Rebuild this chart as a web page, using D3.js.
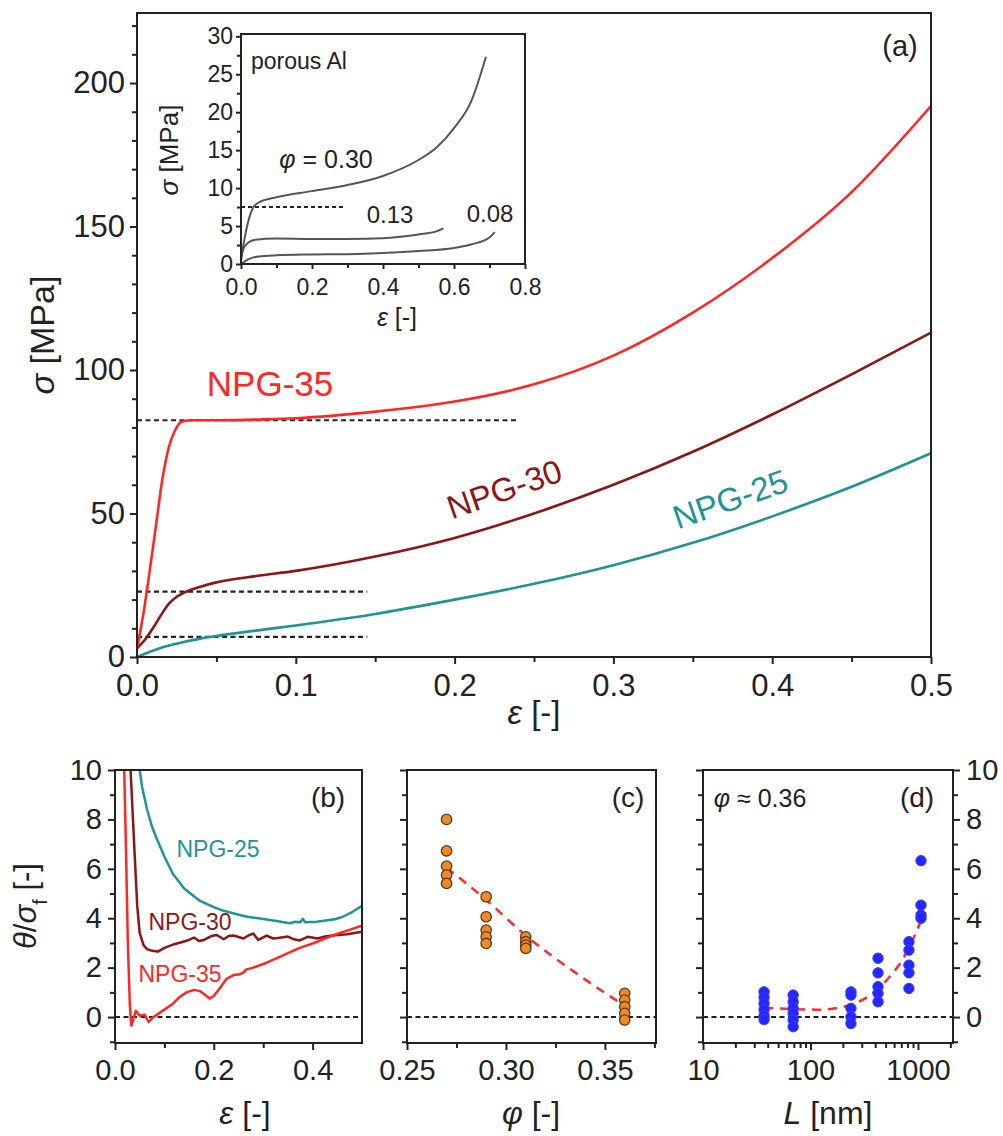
<!DOCTYPE html>
<html>
<head>
<meta charset="utf-8">
<script src="https://cdn.jsdelivr.net/npm/d3@7"></script>
<style>
  body { margin: 0; background: #fff; }
</style>
</head>
<body>
<div class="canvas"></div>
<script>
var FONT = "'Liberation Sans', Arial, sans-serif";

/* ---------- data ---------- */
// (a) stress-strain, [strain, stress MPa]
var npg35 = [[0,3],[0.004,15],[0.008,30],[0.012,46],[0.016,62],[0.02,73],[0.024,79],[0.028,82],[0.035,82.5],[0.05,82.5],[0.08,82.8],[0.1,83.2],[0.15,85.5],[0.2,89],[0.25,95],[0.3,105],[0.35,120],[0.4,139],[0.45,162],[0.5,192]];
var npg30 = [[0,3],[0.005,6],[0.01,10],[0.015,14.5],[0.02,18.5],[0.025,21],[0.03,22.5],[0.04,24.5],[0.05,26],[0.075,28.2],[0.1,30],[0.15,35],[0.2,41.5],[0.25,50],[0.3,60],[0.35,71.5],[0.4,84.5],[0.45,98.5],[0.5,113]];
var npg25 = [[0,0],[0.01,2.2],[0.02,4],[0.03,5.3],[0.04,6.4],[0.05,7.3],[0.075,9.2],[0.1,11],[0.15,15],[0.2,20],[0.25,25.5],[0.3,32],[0.35,39.8],[0.4,49],[0.45,59.3],[0.5,71]];
// dashed yield levels [from, to, stress]
var yieldLines = [[0,0.24,82.5],[0,0.145,22.8],[0,0.145,7]];

// inset: porous Al
var al30 = [[0,0.5],[0.005,2],[0.035,7.5],[0.05,8.1],[0.1,8.8],[0.2,9.6],[0.3,10.4],[0.4,11.6],[0.5,13.7],[0.55,15.3],[0.6,17.9],[0.65,21.6],[0.69,27.3]];
var al13 = [[0,0.5],[0.005,1.8],[0.02,2.8],[0.04,3.2],[0.1,3.35],[0.2,3.3],[0.3,3.3],[0.4,3.4],[0.45,3.6],[0.5,3.9],[0.55,4.3],[0.57,4.7]];
var al08 = [[0,0],[0.02,0.6],[0.05,1.0],[0.1,1.15],[0.2,1.25],[0.3,1.3],[0.4,1.45],[0.5,1.7],[0.6,2.1],[0.65,2.6],[0.7,3.5],[0.715,4.2]];
var alYield = [0,0.29,7.5];

// (b) hardening rate theta/sigma_f vs strain
var b25 = [[0.046,10.6],[0.05,10],[0.055,9.3],[0.065,8.4],[0.075,7.7],[0.085,7.2],[0.1,6.5],[0.117,5.8],[0.14,5.2],[0.172,4.7],[0.2,4.45],[0.22,4.3],[0.239,4.2],[0.255,4.12],[0.27,4.05],[0.29,4.0],[0.307,3.95],[0.33,3.88],[0.354,3.8],[0.365,3.86],[0.375,3.84],[0.38,3.98],[0.385,3.84],[0.408,3.86],[0.43,3.92],[0.445,3.96],[0.46,4.05],[0.48,4.25],[0.5,4.5]];
var b30 = [[0.03,10.6],[0.034,9.0],[0.04,6.5],[0.045,4.5],[0.05,3.4],[0.058,2.9],[0.065,2.75],[0.075,2.68],[0.087,2.65],[0.1,2.8],[0.12,2.95],[0.138,3.05],[0.15,3.12],[0.16,3.22],[0.17,3.08],[0.18,3.12],[0.195,3.28],[0.206,3.32],[0.22,3.15],[0.23,3.28],[0.24,3.3],[0.26,3.18],[0.27,3.3],[0.28,3.38],[0.29,3.12],[0.307,3.3],[0.32,3.18],[0.33,3.2],[0.35,3.26],[0.36,3.16],[0.374,3.1],[0.39,3.25],[0.41,3.18],[0.425,3.26],[0.44,3.3],[0.47,3.35],[0.5,3.45]];
var b35 = [[0.018,10.6],[0.022,7],[0.026,3],[0.03,0.5],[0.033,-0.35],[0.037,-0.1],[0.042,0.25],[0.05,0.05],[0.06,0.1],[0.068,-0.2],[0.075,-0.05],[0.085,0.1],[0.1,0.3],[0.118,0.55],[0.13,0.8],[0.145,1.0],[0.16,1.1],[0.172,1.05],[0.182,0.9],[0.192,0.75],[0.2,0.85],[0.215,1.25],[0.226,1.55],[0.24,1.7],[0.25,1.72],[0.26,1.8],[0.265,1.92],[0.28,2.0],[0.307,2.2],[0.34,2.5],[0.374,2.8],[0.41,3.05],[0.44,3.3],[0.47,3.5],[0.5,3.7]];

// (c) [phi, theta/sigma_f]
var cPoints = [[0.27,8.0],[0.27,6.73],[0.27,6.11],[0.27,5.75],[0.27,5.41],
  [0.29,4.87],[0.29,4.06],[0.29,3.52],[0.29,3.25],[0.29,2.98],
  [0.31,3.25],[0.31,3.05],[0.31,2.91],[0.31,2.78],
  [0.36,0.96],[0.36,0.69],[0.36,0.42],[0.36,0.15],[0.36,-0.12]];
var cFit = [[0.27,6.05],[0.29,4.74],[0.31,3.3],[0.335,1.8],[0.361,0.4]];

// (d) [L nm, theta/sigma_f]
var dPoints = [[37,1.02],[37,0.8],[37,0.55],[37,0.3],[37,0.05],[37,-0.1],
  [69,0.89],[69,0.62],[69,0.35],[69,0.15],[69,-0.12],[69,-0.39],
  [238,1.02],[238,0.89],[238,0.35],[238,0.01],[238,-0.26],
  [425,2.38],[425,1.79],[425,1.23],[425,0.96],[425,0.62],
  [824,3.05],[824,2.71],[824,2.1],[824,1.79],[824,1.16],
  [1067,6.33],[1067,4.53],[1067,4.13],[1067,4.0]];
var dFit = [[37,0.38],[69,0.32],[120,0.3],[238,0.5],[425,1.15],[824,2.8],[1067,3.9]];

var mainXTicks = [0,0.1,0.2,0.3,0.4,0.5];
var mainYTicks = [0,50,100,150,200];
var insetXTicks = [0,0.2,0.4,0.6,0.8];
var insetYTicks = [0,5,10,15,20,25,30];
var lowYTicks = [0,2,4,6,8,10];
var bXTicks = [0,0.2,0.4];
var cXTicks = [0.25,0.30,0.35];
var dXTicks = [10,100,1000];

var RED = "#ff2626", DARKRED = "#8c1616", TEAL = "#1f9494", GREY = "#555";

/* ---------- svg ---------- */
var svg = d3.select(".canvas").append("svg")
  .attr("width", 1003).attr("height", 1136);
svg.append("rect").attr("width", 1003).attr("height", 1136).attr("fill", "#fff");

function addAxis(axisGen, tx, ty, fs) {
  var g = svg.append("g").attr("transform", "translate(" + tx + "," + ty + ")").call(axisGen);
  g.select(".domain").remove();
  g.selectAll("line").attr("stroke", "#222").attr("stroke-width", 2);
  g.selectAll("text").attr("font-size", fs).attr("font-family", FONT).attr("fill", "#222");
  return g;
}
function frame(x, y) {
  svg.append("rect")
    .attr("x", x.range()[0]).attr("y", y.range()[1])
    .attr("width", x.range()[1] - x.range()[0])
    .attr("height", y.range()[0] - y.range()[1])
    .attr("fill", "none").attr("stroke", "#222").attr("stroke-width", 2);
}
function curve(data, x, y, color, w, dash, interp) {
  var line = d3.line().x(function(d) { return x(d[0]); }).y(function(d) { return y(d[1]); })
    .curve(interp || d3.curveLinear);
  return svg.append("path").datum(data).attr("d", line)
    .attr("fill", "none").attr("stroke", color).attr("stroke-width", w)
    .attr("stroke-dasharray", dash || null).attr("stroke-linejoin", "round");
}
function label(x, y, parts, fs, color, rot) {
  var t = svg.append("text").attr("x", x).attr("y", y)
    .attr("font-family", FONT).attr("font-size", fs).attr("fill", color || "#222")
    .attr("text-anchor", "middle");
  if (rot) t.attr("transform", "rotate(" + rot + "," + x + "," + y + ")");
  parts.forEach(function(p) {
    var s = t.append("tspan").text(p.t);
    if (p.i) s.attr("font-style", "italic");
    if (p.sub) s.attr("baseline-shift", "sub").attr("font-size", fs * 0.65);
  });
  return t;
}
function range(a, b, step) {
  var out = [];
  for (var v = a; v <= b + 1e-9; v += step) out.push(+v.toFixed(4));
  return out;
}

/* ---------- (a) main ---------- */
var xA = d3.scaleLinear().domain([0, 0.5]).range([137, 931]);
var yA = d3.scaleLinear().domain([0, 224.4]).range([657, 13]);

addAxis(d3.axisBottom(xA).tickValues(range(0.05, 0.45, 0.1)).tickSize(5).tickFormat(""), 0, 657, 10);
addAxis(d3.axisBottom(xA).tickValues(mainXTicks).tickSize(7).tickPadding(10).tickFormat(d3.format(".1f")), 0, 657, 31);
addAxis(d3.axisLeft(yA).tickValues(range(10, 220, 10).filter(function(v) { return v % 50; })).tickSize(5).tickFormat(""), 137, 0, 10);
addAxis(d3.axisLeft(yA).tickValues(mainYTicks).tickSize(7).tickPadding(5), 137, 0, 31);

yieldLines.forEach(function(l) {
  curve([[l[0], l[2]], [l[1], l[2]]], xA, yA, "#222", 2.2, "5,3.5");
});
curve(npg25, xA, yA, TEAL, 2.6, null, d3.curveMonotoneX);
curve(npg30, xA, yA, DARKRED, 2.6, null, d3.curveMonotoneX);
curve(npg35, xA, yA, RED, 2.6, null, d3.curveMonotoneX);
frame(xA, yA);

label(270, 396, [{t: "NPG-35"}], 35, RED);
label(508, 500, [{t: "NPG-30"}], 33, DARKRED, -19);
label(734, 510, [{t: "NPG-25"}], 33, TEAL, -19);
label(900, 56, [{t: "(a)"}], 29);
label(534, 724, [{t: "ε", i: true}, {t: " [-]"}], 33);
label(54, 335, [{t: "σ", i: true}, {t: " [MPa]"}], 34, "#222", -90);

/* ---------- inset ---------- */
var xI = d3.scaleLinear().domain([0, 0.8]).range([241, 525]);
var yI = d3.scaleLinear().domain([0, 30.3]).range([264, 34]);
addAxis(d3.axisBottom(xI).tickValues(range(0.1, 0.7, 0.2)).tickSize(4).tickFormat(""), 0, 264, 10);
addAxis(d3.axisBottom(xI).tickValues(insetXTicks).tickSize(5).tickPadding(10).tickFormat(d3.format(".1f")), 0, 264, 23);
addAxis(d3.axisLeft(yI).tickValues(range(2.5, 27.5, 5)).tickSize(4).tickFormat(""), 241, 0, 10);
addAxis(d3.axisLeft(yI).tickValues(insetYTicks).tickSize(5).tickPadding(3), 241, 0, 23);
curve([[alYield[0], alYield[2]], [alYield[1], alYield[2]]], xI, yI, "#222", 2, "4,3");
curve(al08, xI, yI, GREY, 2, null, d3.curveMonotoneX);
curve(al13, xI, yI, GREY, 2, null, d3.curveMonotoneX);
curve(al30, xI, yI, GREY, 2, null, d3.curveMonotoneX);
frame(xI, yI);
svg.append("text").attr("x", 251).attr("y", 69).attr("font-family", FONT).attr("font-size", 23)
  .attr("fill", "#222").text("porous Al");
label(326, 168, [{t: "φ", i: true}, {t: " = 0.30"}], 25);
label(390, 223, [{t: "0.13"}], 24);
label(490, 222, [{t: "0.08"}], 24);
label(397, 326, [{t: "ε", i: true}, {t: " [-]"}], 25);
label(178, 150, [{t: "σ", i: true}, {t: " [MPa]"}], 26, "#222", -90);

/* ---------- lower panels ---------- */
var yLow = d3.scaleLinear().domain([-1.05, 10]).range([1043, 770]);
var lowMinor = range(-1, 9, 2);

// (b)
var xB = d3.scaleLinear().domain([0, 0.5]).range([115, 362]);
addAxis(d3.axisBottom(xB).tickValues([0.1, 0.3]).tickSize(5).tickFormat(""), 0, 1043, 10);
addAxis(d3.axisBottom(xB).tickValues(bXTicks).tickSize(7).tickPadding(9).tickFormat(d3.format(".1f")), 0, 1043, 29);
addAxis(d3.axisLeft(yLow).tickValues(lowMinor).tickSize(5).tickFormat(""), 115, 0, 10);
addAxis(d3.axisLeft(yLow).tickValues(lowYTicks).tickSize(7).tickPadding(6), 115, 0, 29);
curve([[0, 0], [0.5, 0]], xB, yLow, "#222", 2, "5,3.5");
svg.append("clipPath").attr("id", "clipB").append("rect")
  .attr("x", 115).attr("y", 770).attr("width", 247).attr("height", 273);
curve(b25, xB, yLow, TEAL, 2.5).attr("clip-path", "url(#clipB)");
curve(b30, xB, yLow, DARKRED, 2.5).attr("clip-path", "url(#clipB)");
curve(b35, xB, yLow, RED, 2.5).attr("clip-path", "url(#clipB)");
frame(xB, yLow);
label(218, 857, [{t: "NPG-25"}], 23, TEAL);
label(190, 930, [{t: "NPG-30"}], 23, DARKRED);
label(180, 982, [{t: "NPG-35"}], 23, RED);
label(328, 807, [{t: "(b)"}], 28);
label(245, 1124, [{t: "ε", i: true}, {t: " [-]"}], 32);
label(36, 906, [{t: "θ", i: true}, {t: "/"}, {t: "σ", i: true}, {t: "f", sub: true}, {t: " [-]"}], 31, "#222", -90);

// (c)
var xC = d3.scaleLinear().domain([0.25, 0.3758]).range([407, 656]);
addAxis(d3.axisBottom(xC).tickValues([0.275, 0.325, 0.375]).tickSize(5).tickFormat(""), 0, 1043, 10);
addAxis(d3.axisBottom(xC).tickValues(cXTicks).tickSize(7).tickPadding(9).tickFormat(d3.format(".2f")), 0, 1043, 29);
addAxis(d3.axisLeft(yLow).tickValues(lowMinor).tickSize(5).tickFormat(""), 407, 0, 10);
addAxis(d3.axisLeft(yLow).tickValues(lowYTicks).tickSize(7).tickFormat(""), 407, 0, 10);
curve([[0.25, 0], [0.3758, 0]], xC, yLow, "#222", 2, "5,3.5");
curve(cFit, xC, yLow, "#ff2a2a", 2.5, "9,7", d3.curveMonotoneX);
svg.append("g").selectAll("circle").data(cPoints).join("circle")
  .attr("cx", function(d) { return xC(d[0]); })
  .attr("cy", function(d) { return yLow(d[1]); })
  .attr("r", 5.2).attr("fill", "#f08a24").attr("stroke", "#5a3a1a").attr("stroke-width", 1.3);
frame(xC, yLow);
label(628, 807, [{t: "(c)"}], 28);
label(531, 1124, [{t: "φ", i: true}, {t: " [-]"}], 32);

// (d)
var xD = d3.scaleLog().domain([10, 2118]).range([703, 953]);
var dMinor = [20,30,40,50,60,70,80,90,200,300,400,500,600,700,800,900,2000];
addAxis(d3.axisBottom(xD).tickValues(dMinor).tickSize(5).tickFormat(""), 0, 1043, 10);
addAxis(d3.axisBottom(xD).tickValues(dXTicks).tickSize(7).tickPadding(9).tickFormat(d3.format("d")), 0, 1043, 29);
addAxis(d3.axisLeft(yLow).tickValues(lowMinor).tickSize(5).tickFormat(""), 703, 0, 10);
addAxis(d3.axisLeft(yLow).tickValues(lowYTicks).tickSize(7).tickFormat(""), 703, 0, 10);
addAxis(d3.axisRight(yLow).tickValues(lowMinor).tickSize(5).tickFormat(""), 953, 0, 10);
addAxis(d3.axisRight(yLow).tickValues(lowYTicks).tickSize(7).tickPadding(6), 953, 0, 29);
curve([[10, 0], [2118, 0]], xD, yLow, "#222", 2, "5,3.5");
curve(dFit, xD, yLow, "#ff2a2a", 2.5, "9,7", d3.curveMonotoneX);
svg.append("g").selectAll("circle").data(dPoints).join("circle")
  .attr("cx", function(d) { return xD(d[0]); })
  .attr("cy", function(d) { return yLow(d[1]); })
  .attr("r", 5.2).attr("fill", "#2626ff").attr("stroke", "#3a3aff").attr("stroke-width", 1);
frame(xD, yLow);
label(917, 807, [{t: "(d)"}], 28);
label(760, 807, [{t: "φ", i: true}, {t: " ≈ 0.36"}], 25);
label(828, 1124, [{t: "L", i: true}, {t: " [nm]"}], 32);
</script>
</body>
</html>
